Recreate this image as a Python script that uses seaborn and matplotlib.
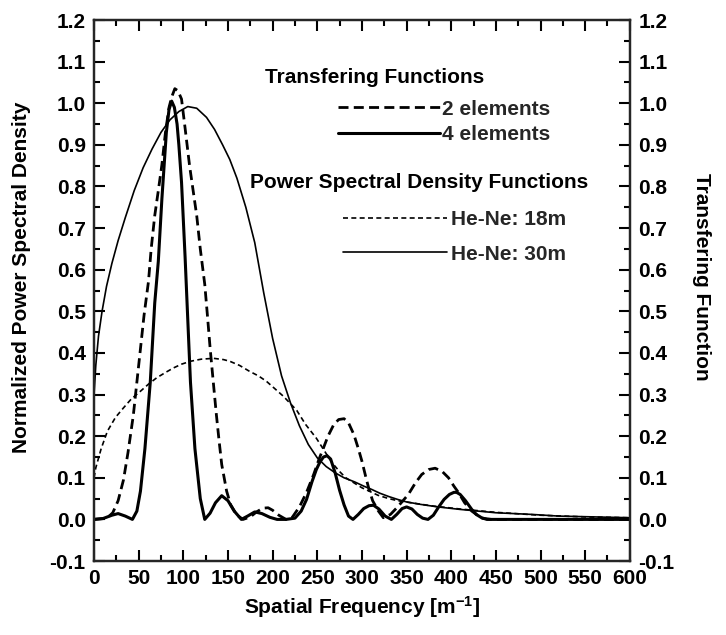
import numpy as np
import pandas as pd
import matplotlib
matplotlib.use("Agg")
import matplotlib.pyplot as plt
from matplotlib.ticker import MultipleLocator, FormatStrFormatter
from matplotlib.lines import Line2D
import seaborn as sns

# ---------------- data ----------------
x_4el = [0, 10, 20, 27, 35, 43, 48, 52, 57, 63, 68, 72, 76, 81, 84, 87, 90, 93, 95, 98,
         102, 104, 108, 113, 119, 124, 130, 136, 143, 150, 157, 165, 172, 180, 188, 197,
         205, 215, 225, 232, 238, 244, 249, 253, 257, 261, 265, 270, 275, 280, 285, 290,
         296, 302, 308, 313, 319, 326, 333, 339, 345, 350, 356, 362, 368, 374, 380, 386,
         392, 398, 403, 406, 410, 416, 423, 428, 434, 440, 450, 500, 550, 600]
y_4el = [0.0, 0.002, 0.010, 0.014, 0.008, 0.0, 0.02, 0.068, 0.17, 0.33, 0.52, 0.62, 0.77,
         0.93, 0.985, 1.005, 0.99, 0.95, 0.90, 0.81, 0.63, 0.53, 0.33, 0.17, 0.05, 0.0,
         0.015, 0.04, 0.057, 0.045, 0.02, 0.0, 0.008, 0.018, 0.014, 0.005, 0.0, 0.0, 0.003,
         0.02, 0.048, 0.09, 0.12, 0.138, 0.15, 0.153, 0.145, 0.112, 0.07, 0.035, 0.008, 0.0,
         0.012, 0.026, 0.033, 0.034, 0.025, 0.008, 0.0, 0.012, 0.026, 0.03, 0.025, 0.012,
         0.003, 0.0, 0.01, 0.03, 0.048, 0.06, 0.065, 0.065, 0.06, 0.045, 0.024, 0.012,
         0.004, 0.0, 0.0, 0.0, 0.0, 0.0]

x_2el = [0, 10, 16, 21, 27, 33, 38, 44, 48, 52, 56, 61, 64, 68, 72, 76, 80, 84, 87, 90.5,
         94, 98, 102, 107, 111, 115, 119, 124, 127, 130, 134, 137, 140, 143, 148.5, 153,
         160, 167, 175, 182, 189, 195, 200, 207, 215, 222, 230, 238, 246, 252, 257, 262,
         268.5, 274, 280, 285, 291, 296, 300, 304, 307.5, 312, 318.5, 324, 332, 340, 346,
         352, 360, 367, 375, 382, 390, 397, 403, 408, 415, 423, 434, 445, 500, 550, 600]
y_2el = [0.0, 0.002, 0.006, 0.016, 0.045, 0.095, 0.16, 0.25, 0.33, 0.41, 0.49, 0.572,
         0.65, 0.73, 0.79, 0.852, 0.93, 0.99, 1.015, 1.035, 1.03, 1.01, 0.94, 0.85, 0.79,
         0.73, 0.65, 0.565, 0.49, 0.412, 0.32, 0.252, 0.19, 0.132, 0.068, 0.035, 0.01,
         0.0, 0.006, 0.018, 0.027, 0.028, 0.022, 0.01, 0.0, 0.005, 0.03, 0.065, 0.108,
         0.145, 0.172, 0.2, 0.228, 0.24, 0.242, 0.232, 0.204, 0.17, 0.14, 0.105, 0.076,
         0.045, 0.02, 0.004, 0.012, 0.03, 0.045, 0.06, 0.088, 0.108, 0.12, 0.123, 0.115,
         0.1, 0.08, 0.065, 0.04, 0.02, 0.003, 0.0, 0.0, 0.0, 0.0]

x_30m = [0, 2, 5, 9, 14, 20, 27, 35, 45, 55, 65, 75, 85, 95, 105, 115, 126, 135, 144,
         152, 160, 170, 180, 190, 200, 210, 220, 230, 240, 250, 260, 270, 280, 292, 302,
         311, 320, 330, 340, 350, 366, 385, 410, 450, 490, 520, 560, 600]
y_30m = [0.30, 0.37, 0.44, 0.50, 0.56, 0.615, 0.67, 0.725, 0.79, 0.845, 0.89, 0.93, 0.96,
         0.98, 0.992, 0.988, 0.966, 0.937, 0.90, 0.865, 0.82, 0.75, 0.665, 0.545, 0.435,
         0.345, 0.28, 0.225, 0.18, 0.148, 0.127, 0.112, 0.10, 0.09, 0.08, 0.072, 0.063,
         0.055, 0.048, 0.042, 0.036, 0.03, 0.024, 0.016, 0.012, 0.008, 0.006, 0.004]

x_18m = [0, 2, 8, 15, 24, 33, 42, 52, 61, 70, 80, 89, 98, 108, 120, 134, 145, 152, 163,
         174, 184, 193, 202, 212, 220, 227, 237, 249, 260, 267, 275, 282, 291, 300, 310,
         318, 330, 340, 355, 380, 410, 450, 500, 550, 600]
y_18m = [0.10, 0.124, 0.17, 0.212, 0.245, 0.268, 0.29, 0.308, 0.325, 0.34, 0.353, 0.364,
         0.373, 0.38, 0.385, 0.387, 0.384, 0.38, 0.37, 0.356, 0.345, 0.332, 0.315, 0.296,
         0.278, 0.262, 0.228, 0.195, 0.158, 0.135, 0.115, 0.10, 0.088, 0.076, 0.066,
         0.058, 0.05, 0.045, 0.04, 0.032, 0.025, 0.017, 0.01, 0.006, 0.004]

tf_labels = ["2 elements", "4 elements"]
psd_labels = ["He-Ne: 18m", "He-Ne: 30m"]
tf_title = "Transfering Functions"
psd_title = "Power Spectral Density Functions"
xlabel = "Spatial Frequency [m$^{-1}$]"
ylabel_left = "Normalized Power Spectral Density"
ylabel_right = "Transfering Function"

# ---------------- style ----------------
sns.set_theme(style="ticks")
plt.rcParams["font.family"] = ["Liberation Sans", "DejaVu Sans"]
plt.rcParams["font.weight"] = "bold"
plt.rcParams["axes.unicode_minus"] = False
plt.rcParams["mathtext.default"] = "regular"
FS = 15

fig = plt.figure(figsize=(7.26, 6.35), dpi=100)
ax = fig.add_axes([0.1295, 0.1165, 0.738, 0.852])

BLACK = "black"
sty_2el = dict(color=BLACK, linewidth=2.0, linestyle=(0, (3.6, 1.9)))
sty_4el = dict(color=BLACK, linewidth=2.2, linestyle="-")
sty_18m = dict(color=BLACK, linewidth=1.2, linestyle=(0, (3.0, 2.0)))
sty_30m = dict(color=BLACK, linewidth=1.2, linestyle="-")

sns.lineplot(x=x_18m, y=y_18m, ax=ax, **sty_18m)
sns.lineplot(x=x_30m, y=y_30m, ax=ax, **sty_30m)
sns.lineplot(x=x_2el, y=y_2el, ax=ax, **sty_2el)
sns.lineplot(x=x_4el, y=y_4el, ax=ax, **sty_4el)

ax.set_xlim(0, 600)
ax.set_ylim(-0.1, 1.2)
ax.xaxis.set_major_locator(MultipleLocator(50))
ax.xaxis.set_minor_locator(MultipleLocator(25))
ax.yaxis.set_major_locator(MultipleLocator(0.1))
ax.yaxis.set_minor_locator(MultipleLocator(0.05))
ax.yaxis.set_major_formatter(FormatStrFormatter("%.1f"))

for s in ax.spines.values():
    s.set_linewidth(1.6)
    s.set_color(BLACK)

ax.tick_params(which="both", direction="in", top=True, right=False, color=BLACK, width=1.5)
ax.tick_params(which="major", length=8, labelsize=FS, pad=6, labelcolor=BLACK)
ax.tick_params(which="minor", length=4)

ax2 = ax.twinx()
ax2.set_ylim(ax.get_ylim())
ax2.yaxis.set_major_locator(MultipleLocator(0.1))
ax2.yaxis.set_minor_locator(MultipleLocator(0.05))
ax2.yaxis.set_major_formatter(FormatStrFormatter("%.1f"))
ax2.tick_params(which="both", direction="in", color=BLACK, width=1.5)
ax2.tick_params(which="major", length=8, labelsize=FS, pad=6, labelcolor=BLACK)
ax2.tick_params(which="minor", length=4)
for s in ax2.spines.values():
    s.set_linewidth(1.6)

for lab in ax.get_xticklabels() + ax.get_yticklabels() + ax2.get_yticklabels():
    lab.set_fontweight("bold")

ax.set_xlabel(xlabel, fontsize=FS, fontweight="bold", color=BLACK)
ax.set_ylabel(ylabel_left, fontsize=FS, fontweight="bold", color=BLACK)
ax2.set_ylabel(ylabel_right, fontsize=FS, fontweight="bold", color=BLACK, rotation=270)
ax.xaxis.set_label_coords(0.5, -0.062)
ax.yaxis.set_label_coords(-0.118, 0.525)
ax2.yaxis.set_label_coords(1.152, 0.525)

# ---------------- legend blocks ----------------
ax.text(0.319, 0.893, tf_title, transform=ax.transAxes, fontsize=FS, fontweight="bold",
        ha="left", va="center", color=BLACK)
ax.text(0.291, 0.699, psd_title, transform=ax.transAxes, fontsize=FS, fontweight="bold",
        ha="left", va="center", color=BLACK)

h_tf = [Line2D([], [], **sty_2el), Line2D([], [], **sty_4el)]
leg1 = ax.legend(h_tf, tf_labels, loc="upper left", bbox_to_anchor=(0.455, 0.853),
                 frameon=False, fontsize=FS, handlelength=4.9, handletextpad=0.12,
                 borderpad=0, borderaxespad=0, labelspacing=0.32)
for t in leg1.get_texts():
    t.set_fontweight("bold")
ax.add_artist(leg1)

h_psd = [Line2D([], [], **sty_18m), Line2D([], [], **sty_30m)]
leg2 = ax.legend(h_psd, psd_labels, loc="upper left", bbox_to_anchor=(0.464, 0.649),
                 frameon=False, fontsize=FS, handlelength=5.0, handletextpad=0.18,
                 borderpad=0, borderaxespad=0, labelspacing=0.75)
for t in leg2.get_texts():
    t.set_fontweight("bold")

fig.savefig("out.png", dpi=100)
